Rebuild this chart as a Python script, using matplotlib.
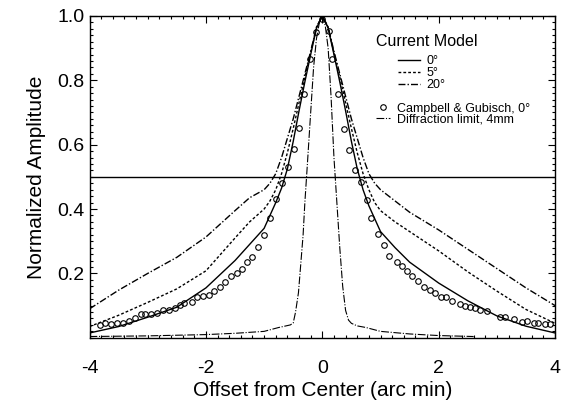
import matplotlib
matplotlib.use('Agg')
import matplotlib.pyplot as plt
from matplotlib.lines import Line2D
from matplotlib.ticker import MultipleLocator

plt.rcParams['font.family'] = ['Liberation Sans', 'DejaVu Sans']
plt.rcParams['axes.unicode_minus'] = False

# model curves (offset in arc min, normalized amplitude)
x_model = [-4.0, -3.5, -3.0, -2.5, -2.0, -1.5, -1.25, -1.0, -0.9, -0.8, -0.7, -0.6, -0.5,
           -0.4, -0.3, -0.2, -0.1, 0.0, 0.1, 0.2, 0.3, 0.4, 0.5, 0.6, 0.7, 0.8, 0.9,
           1.0, 1.25, 1.5, 2.0, 2.5, 3.0, 3.5, 4.0]
y_0deg = [0.015, 0.035, 0.064, 0.095, 0.155, 0.24, 0.29, 0.34, 0.38, 0.42, 0.465, 0.525, 0.61,
          0.705, 0.795, 0.88, 0.962, 1.0, 0.962, 0.88, 0.795, 0.705, 0.61, 0.525, 0.46, 0.41, 0.37,
          0.33, 0.28, 0.235, 0.17, 0.115, 0.068, 0.036, 0.015]
y_5deg = [0.035, 0.07, 0.11, 0.152, 0.208, 0.31, 0.36, 0.40, 0.425, 0.46, 0.51, 0.575, 0.65,
          0.73, 0.81, 0.885, 0.965, 1.0, 0.965, 0.885, 0.81, 0.73, 0.65, 0.575, 0.51, 0.46, 0.42,
          0.395, 0.36, 0.33, 0.27, 0.205, 0.145, 0.088, 0.045]
y_20deg = [0.09, 0.148, 0.2, 0.25, 0.313, 0.395, 0.435, 0.46, 0.48, 0.51, 0.56, 0.62, 0.68,
           0.75, 0.82, 0.89, 0.965, 1.0, 0.965, 0.89, 0.82, 0.75, 0.68, 0.62, 0.56, 0.51, 0.48,
           0.46, 0.425, 0.39, 0.335, 0.275, 0.215, 0.155, 0.1]

# diffraction limit, 4 mm pupil
x_diff = [-4.0, -3.0, -2.0, -1.5, -1.0, -0.75, -0.55, -0.5, -0.46, -0.41, -0.37, -0.33, -0.3,
          -0.26, -0.2, -0.15, -0.1, -0.05, 0.0, 0.05, 0.1, 0.15, 0.2, 0.25, 0.3, 0.35, 0.4,
          0.45, 0.5, 0.6, 0.75, 1.0, 1.5, 2.0, 2.6]
y_diff = [0.004, 0.006, 0.01, 0.014, 0.02, 0.032, 0.04, 0.046, 0.08, 0.14, 0.23, 0.32, 0.42,
          0.53, 0.7, 0.84, 0.93, 0.98, 1.0, 0.97, 0.9, 0.75, 0.56, 0.42, 0.28, 0.16, 0.085,
          0.055, 0.045, 0.037, 0.032, 0.02, 0.012, 0.007, 0.004]

# Campbell & Gubisch measurements
x_cg = [-3.826, -3.729, -3.631, -3.528, -3.431, -3.328, -3.213, -3.11, -3.041, -2.944, -2.841,
        -2.743, -2.64, -2.537, -2.451, -2.371, -2.239, -2.153, -2.05, -1.953, -1.856, -1.764,
        -1.667, -1.569, -1.466, -1.38, -1.294, -1.208, -1.105, -1.008, -0.893, -0.79, -0.687,
        -0.596, -0.493, -0.4, -0.309, -0.218, -0.103, 0.0, 0.109, 0.166, 0.263, 0.378, 0.452,
        0.555, 0.67, 0.768, 0.842, 0.95, 1.054, 1.14, 1.283, 1.369, 1.455, 1.541, 1.638, 1.753,
        1.856, 1.93, 2.04, 2.125, 2.228, 2.359, 2.457, 2.531, 2.629, 2.715, 2.83, 3.058, 3.144,
        3.287, 3.431, 3.517, 3.63, 3.7, 3.82, 3.918]
y_cg = [0.04, 0.045, 0.043, 0.045, 0.047, 0.053, 0.062, 0.074, 0.075, 0.075, 0.077,
        0.085, 0.087, 0.092, 0.102, 0.108, 0.112, 0.127, 0.129, 0.134, 0.144, 0.157,
        0.172, 0.191, 0.201, 0.214, 0.234, 0.25, 0.282, 0.32, 0.371, 0.43, 0.482,
        0.532, 0.586, 0.652, 0.757, 0.866, 0.949, 0.99, 0.953, 0.866, 0.757, 0.648, 0.584,
        0.522, 0.485, 0.429, 0.372, 0.322, 0.289, 0.253, 0.234, 0.222, 0.206, 0.193, 0.177, 0.157,
        0.147, 0.139, 0.127, 0.126, 0.115, 0.105, 0.099, 0.095, 0.092, 0.085, 0.082, 0.065, 0.065,
        0.059, 0.05, 0.053, 0.045, 0.047, 0.042, 0.043]

half_max = 0.5

style_0 = dict(color='black', lw=1.0, ls='-')
style_5 = dict(color='black', lw=1.0, ls=(0, (2.0, 1.5)))
style_20 = dict(color='black', lw=1.0, ls=(0, (5.0, 1.5, 1.0, 1.5)))
style_diff = dict(color='black', lw=0.8, ls=(0, (7.0, 1.5, 1.0, 1.5)))
style_cg = dict(ls='none', marker='o', ms=4, mfc='none', mec='black', mew=0.8)

fig = plt.figure(figsize=(5.63, 4.07), dpi=100)
ax = fig.add_axes([0.159, 0.170, 0.827, 0.791])

ax.plot(x_model, y_20deg, **style_20)
ax.plot(x_model, y_5deg, **style_5)
ax.plot(x_model, y_0deg, **style_0)
ax.plot(x_diff, y_diff, **style_diff)
ax.plot(x_cg, y_cg, **style_cg)
ax.axhline(half_max, color='black', lw=1.0)

ax.set_xlim(-4, 4)
ax.set_ylim(0, 1.0)
ax.set_xticks([-4, -2, 0, 2, 4])
ax.set_yticks([0.2, 0.4, 0.6, 0.8, 1.0])
ax.xaxis.set_minor_locator(MultipleLocator(0.2))
ax.yaxis.set_minor_locator(MultipleLocator(0.02))
ax.tick_params(which='both', direction='in', top=True, right=True, width=0.8, labelsize=14)
ax.tick_params(which='major', length=5)
ax.tick_params(which='minor', length=2.5)
ax.tick_params(axis='x', pad=16)
for s in ax.spines.values():
    s.set_linewidth(1.0)

ax.set_xlabel('Offset from Center (arc min)', fontsize=15, labelpad=3)
ax.set_ylabel('Normalized Amplitude', fontsize=15, labelpad=8)

# legend block
ax.text(0.6155, 0.921, 'Current Model', transform=ax.transAxes, fontsize=11.5,
        ha='left', va='center')
h_model = [Line2D([], [], **style_0), Line2D([], [], **style_5), Line2D([], [], **style_20)]
leg1 = ax.legend(h_model, ['0°', '5°', '20°'], loc='upper left', bbox_to_anchor=(0.663, 0.877),
                 frameon=False, fontsize=9, handlelength=1.76, handletextpad=0.5,
                 labelspacing=0.0, borderpad=0, borderaxespad=0)
ax.add_artist(leg1)
h_other = [Line2D([], [], **style_cg), Line2D([], [], **style_diff)]
ax.legend(h_other, ['Campbell & Gubisch, 0°', 'Diffraction limit, 4mm'], loc='upper left',
          bbox_to_anchor=(0.6155, 0.730), frameon=False, fontsize=9, handlelength=1.12,
          handletextpad=0.55, labelspacing=-0.1, borderpad=0, borderaxespad=0, numpoints=1)

fig.savefig('out.png', dpi=100)
